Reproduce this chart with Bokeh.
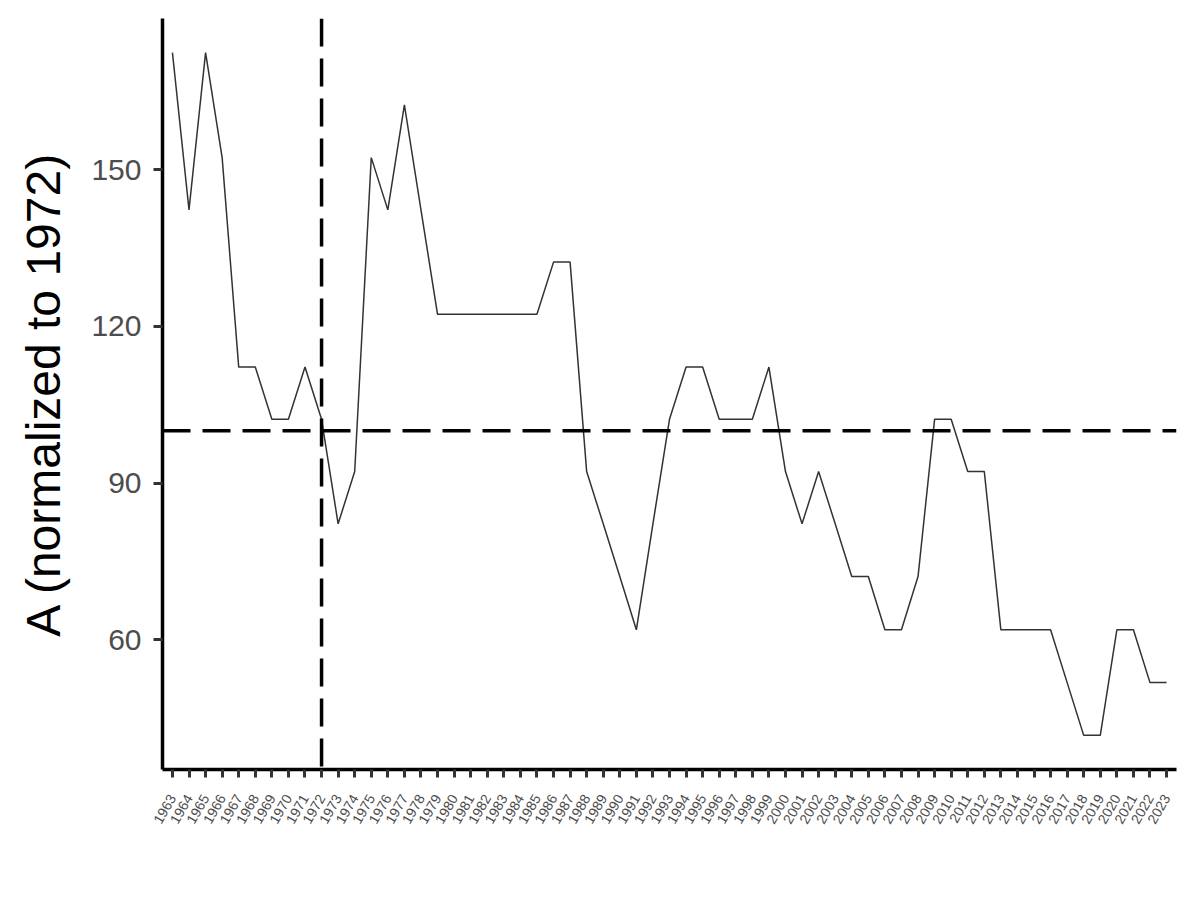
import math
from bokeh.plotting import figure
from bokeh.models import Range1d, FixedTicker, Span
from bokeh.embed import file_html
from bokeh.resources import INLINE

# ---- data ----
years = list(range(1963, 2024))
values = [
    172.4, 142.3, 172.4, 152.3, 112.2, 112.2, 102.2, 102.2, 112.2, 102.2,  # 1963-1972
    82.2, 92.2, 152.3, 142.3, 162.4, 142.3, 122.3, 122.3, 122.3, 122.3,    # 1973-1982
    122.3, 122.3, 122.3, 132.3, 132.3, 92.2, 82.2, 72.1, 61.9, 82.2,       # 1983-1992
    102.2, 112.2, 112.2, 102.2, 102.2, 102.2, 112.2, 92.2, 82.2, 92.2,     # 1993-2002
    82.2, 72.1, 72.1, 61.9, 61.9, 72.1, 102.2, 102.2, 92.2, 92.2,          # 2003-2012
    61.9, 61.9, 61.9, 61.9, 51.8, 41.7, 41.7, 61.9, 61.9, 51.8, 51.8,      # 2013-2023
]
y_ticks = [60, 90, 120, 150]
ref_year = 1972
ref_value = 100
y_title = "A (normalized to 1972)"

# ---- ranges (ggplot-like expansion) ----
lo, hi = min(values), max(values)
pad = 0.05 * (hi - lo)

p = figure(
    frame_width=1014, frame_height=751,
    min_border_left=162, min_border_right=8, min_border_top=18, min_border_bottom=110,
    x_range=Range1d(years[0] - 0.6, years[-1] + 0.6),
    y_range=Range1d(lo - pad, hi + pad),
    output_backend="svg", toolbar_location=None,
)
p.background_fill_color = "white"
p.border_fill_color = "white"
p.outline_line_color = None
p.xgrid.visible = False
p.ygrid.visible = False

FONT = "Liberation Sans"

# x axis
xa = p.xaxis[0]
xa.ticker = FixedTicker(ticks=years)
xa.major_label_overrides = {y: str(y) for y in years}
xa.major_label_orientation = math.radians(60)
xa.major_label_text_font = FONT
xa.major_label_text_font_size = "14px"
xa.major_label_text_color = "#4D4D4D"
xa.major_label_standoff = 18
xa.axis_line_color = "black"
xa.axis_line_width = 3.5
xa.major_tick_line_color = "#333333"
xa.major_tick_line_width = 3
xa.major_tick_out = 8
xa.major_tick_in = 0
xa.minor_tick_line_color = None

# y axis
ya = p.yaxis[0]
ya.ticker = FixedTicker(ticks=y_ticks)
ya.major_label_text_font = FONT
ya.major_label_text_font_size = "30px"
ya.major_label_text_color = "#4D4D4D"
ya.major_label_standoff = 12
ya.axis_line_color = "black"
ya.axis_line_width = 3.5
ya.major_tick_line_color = "#333333"
ya.major_tick_line_width = 3
ya.major_tick_out = 9
ya.major_tick_in = 0
ya.minor_tick_line_color = None
ya.axis_label = y_title
ya.axis_label_text_font = FONT
ya.axis_label_text_font_size = "48px"
ya.axis_label_text_font_style = "normal"
ya.axis_label_text_color = "black"
ya.axis_label_standoff = 18

# data line
p.line(years, values, line_color="#333333", line_width=1.5)

# reference lines
p.add_layout(Span(location=ref_year, dimension="height", line_color="black",
                  line_width=3.5, line_dash="28 12"))
p.add_layout(Span(location=ref_value, dimension="width", line_color="black",
                  line_width=3.5, line_dash="28 12"))

open("out.html", "w").write(file_html(p, INLINE))
